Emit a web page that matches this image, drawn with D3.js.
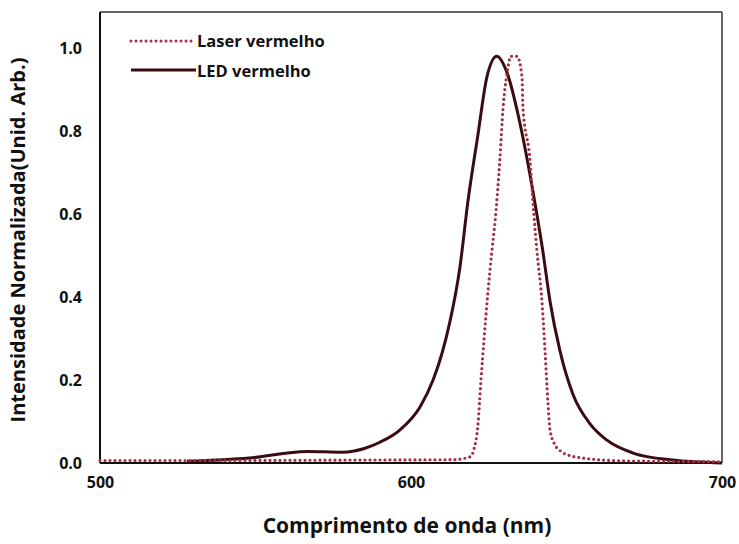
<!DOCTYPE html>
<html>
<head>
<meta charset="utf-8">
<script src="https://cdn.jsdelivr.net/npm/d3@7"></script>
<style>
  body { margin: 0; background: #fff; }
  svg text { font-family: "Open Sans", Lato, sans-serif; font-weight: bold; fill: #111; }
</style>
</head>
<body>
<div class="chart"></div>
<script>
// wavelength (nm) and normalized intensity
const laserWl  = [500, 540, 580, 613.5, 619, 620.3, 621.5, 622.5, 623.5, 624.6, 626, 627, 628.6, 629.6, 630.9, 632.1, 634.1, 635.7, 636, 638.2, 639.5, 640.5, 642.1, 643.1, 644, 644.7, 646.2, 647.9, 651, 654.3, 668, 700];
const laserVal = [0.006, 0.006, 0.007, 0.008, 0.015, 0.035, 0.09, 0.2, 0.3, 0.4, 0.51, 0.58, 0.735, 0.855, 0.94, 0.98, 0.98, 0.93, 0.855, 0.735, 0.6, 0.51, 0.39, 0.27, 0.15, 0.08, 0.045, 0.03, 0.018, 0.013, 0.005, 0.003];
const ledWl  = [528, 548, 566.5, 578, 585, 590, 596.5, 602.9, 607.1, 610, 612.5, 615.7, 618.3, 621.5, 624.4, 627.6, 630.9, 635, 639.2, 642.4, 644.7, 647.9, 652.1, 657.5, 663, 671.4, 684.2, 700];
const ledVal = [0.004, 0.012, 0.028, 0.026, 0.035, 0.05, 0.08, 0.135, 0.2, 0.265, 0.34, 0.47, 0.63, 0.79, 0.93, 0.98, 0.94, 0.82, 0.655, 0.51, 0.39, 0.27, 0.165, 0.095, 0.055, 0.024, 0.007, 0];
const xTicks = [500, 600, 700];
const yTicks = [0, 0.2, 0.4, 0.6, 0.8, 1.0];
const seriesNames = ["Laser vermelho", "LED vermelho"];

const width = 739, height = 544;
const margin = { top: 12, right: 17, bottom: 81, left: 100 };

let svg = d3.select(".chart").append("svg")
    .attr("width", width)
    .attr("height", height);

let x = d3.scaleLinear().domain([500, 700]).range([margin.left, width - margin.right]);
let y = d3.scaleLinear().domain([0, 1]).range([463, 48]);

// frame
svg.append("line").attr("x1", x(500)).attr("x2", x(700)).attr("y1", margin.top).attr("y2", margin.top)
    .attr("stroke", "#333").attr("stroke-width", 1.5);
svg.append("line").attr("x1", x(700)).attr("x2", x(700)).attr("y1", margin.top).attr("y2", y(0))
    .attr("stroke", "#333").attr("stroke-width", 1.5);

// axes without tick marks
let yAxis = svg.append("g")
    .attr("transform", `translate(${x(500) - 15},0)`)
    .call(d3.axisLeft(y).tickValues(yTicks).tickFormat(d3.format(".1f")).tickSize(0));
yAxis.select(".domain").remove();
yAxis.selectAll("text").attr("font-size", 16).attr("fill", "#111").attr("font-family", null);

let xAxis = svg.append("g")
    .attr("transform", `translate(0,${y(0) + 11})`)
    .call(d3.axisBottom(x).tickValues(xTicks).tickFormat(d3.format("d")).tickSize(0));
xAxis.select(".domain").remove();
xAxis.selectAll("text").attr("font-size", 16).attr("fill", "#111").attr("font-family", null);

svg.append("line").attr("x1", x(500)).attr("x2", x(500)).attr("y1", margin.top).attr("y2", y(0))
    .attr("stroke", "#111").attr("stroke-width", 2);
svg.append("line").attr("x1", x(500)).attr("x2", x(700)).attr("y1", y(0)).attr("y2", y(0))
    .attr("stroke", "#111").attr("stroke-width", 2);

// curves
let line = d3.line()
    .x((d) => { return x(d[0]); })
    .y((d) => { return y(d[1]); })
    .curve(d3.curveMonotoneX);

let laser = laserWl.map((w, i) => [w, laserVal[i]]);
let led = ledWl.map((w, i) => [w, ledVal[i]]);

svg.append("path")
    .datum(led)
    .attr("fill", "none")
    .attr("stroke", "#3a0c12")
    .attr("stroke-width", 3)
    .attr("d", line);

svg.append("path")
    .datum(laser)
    .attr("fill", "none")
    .attr("stroke", "#a3303f")
    .attr("stroke-width", 3.2)
    .attr("stroke-linecap", "round")
    .attr("stroke-dasharray", "0 5")
    .attr("d", line);

// legend
let legend = svg.append("g");
legend.append("line").attr("x1", 131).attr("x2", 196).attr("y1", 41).attr("y2", 41)
    .attr("stroke", "#a3303f").attr("stroke-width", 3).attr("stroke-linecap", "round").attr("stroke-dasharray", "0 5");
legend.append("line").attr("x1", 131).attr("x2", 196).attr("y1", 70).attr("y2", 70)
    .attr("stroke", "#3a0c12").attr("stroke-width", 3);
legend.selectAll("text.leg")
    .data(seriesNames)
    .enter().append("text")
    .attr("class", "leg")
    .attr("x", 197)
    .attr("y", (d, i) => 41 + i * 30)
    .attr("dy", "0.35em")
    .attr("font-size", 16.5)
    .text(d => d);

// axis titles
svg.append("text")
    .attr("x", 407)
    .attr("y", 533)
    .attr("text-anchor", "middle")
    .attr("font-size", 21)
    .text("Comprimento de onda (nm)");

svg.append("text")
    .attr("transform", "translate(25,240) rotate(-90)")
    .attr("text-anchor", "middle")
    .attr("font-size", 20)
    .text("Intensidade Normalizada(Unid. Arb.)");
</script>
</body>
</html>
